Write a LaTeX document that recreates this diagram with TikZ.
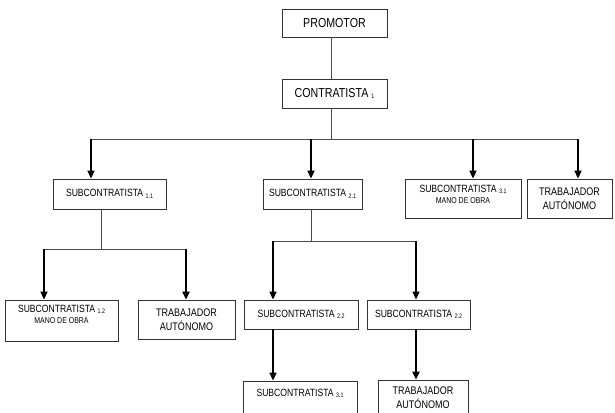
\documentclass[tikz,border=0pt]{standalone}
\usepackage{fontspec}
\setmainfont{Liberation Sans}[FakeStretch=0.82]
\usetikzlibrary{arrows.meta}
\newcommand\sbs[1]{\raisebox{-1.5pt}{\fontsize{6.5}{7}\selectfont #1}}
\newcommand\mfont{\fontsize{10.5}{12.5}\selectfont}
\newcommand\bfnt{\fontsize{13}{15}\selectfont}
\newcommand\smfont{\fontsize{8.5}{10}\selectfont}
\begin{document}
\begin{tikzpicture}[x=1pt,y=-1pt,
  box/.style={draw=black!80, line width=0.8pt, rectangle, inner sep=0pt, align=center, font=\mfont},
  txt/.style={inner sep=0pt, align=center, font=\mfont},
  conn/.style={draw=black!70, line width=0.9pt},
  arr/.style={draw=black, line width=1.6pt, -{Triangle[width=7pt,length=8pt]}}]
\useasboundingbox (0,0) rectangle (615,412);
\clip (0,0) rectangle (615,412);
% boxes
\node[box, minimum width=105pt, minimum height=28pt, font=\bfnt] (prom) at (334.5,23) {PROMOTOR};
\node[box, minimum width=105pt, minimum height=29pt, font=\bfnt] (contr) at (334.5,93.5) {CONTRATISTA \sbs{1}};
\node[box, minimum width=113pt, minimum height=30pt] (s11) at (109.5,194) {SUBCONTRATISTA \sbs{1.1}};
\node[box, minimum width=99pt, minimum height=30pt] (s21) at (312.5,194) {SUBCONTRATISTA \sbs{2.1}};
\node[box, minimum width=116pt, minimum height=39pt] (s31) at (463,198.5) {};
\node[txt, anchor=north] (s31t) at ([yshift=-6pt]s31.north) {SUBCONTRATISTA \sbs{3.1}\\[-1pt]{\smfont MANO DE OBRA}};
\node[box, minimum width=85pt, minimum height=39pt, font=\fontsize{11}{14}\selectfont] (ta1) at (569.5,198.5) {TRABAJADOR\\AUTÓNOMO};
\node[box, minimum width=113pt, minimum height=41pt] (s12) at (61.5,320.5) {};
\node[txt, anchor=north] (s12t) at ([yshift=-5pt]s12.north) {SUBCONTRATISTA \sbs{1.2}\\[-1pt]{\smfont MANO DE OBRA}};
\node[box, minimum width=97pt, minimum height=39pt, font=\fontsize{11}{14}\selectfont] (ta2) at (186.5,319.5) {TRABAJADOR\\AUTÓNOMO};
\node[box, minimum width=114pt, minimum height=29pt] (s22a) at (301,314.5) {SUBCONTRATISTA \sbs{2.2}};
\node[box, minimum width=103pt, minimum height=29pt] (s22b) at (418.5,314.5) {SUBCONTRATISTA \sbs{2.2}};
\node[box, minimum width=114pt, minimum height=36pt] (s31b) at (300,399) {};
\node[txt, anchor=north] (s31bt) at ([yshift=-8pt]s31b.north) {SUBCONTRATISTA \sbs{3.1}};
\node[box, minimum width=90pt, minimum height=36pt, font=\fontsize{11}{14}\selectfont] (ta3) at (423,398) {TRABAJADOR\\AUTÓNOMO};
% junctions
\coordinate (j0) at (331,139);
\coordinate (b1) at (91,139);
\coordinate (b2) at (311,139);
\coordinate (b3) at (473,139);
\coordinate (b4) at (578,139);
\coordinate (j1) at (101,249);
\coordinate (c1) at (44,249);
\coordinate (c2) at (186,249);
\coordinate (j2) at (311,241);
\coordinate (d1) at (273,241);
\coordinate (d2) at (416,241);
% connectors
\draw[conn] (j0 |- prom.south) -- (j0 |- contr.north);
\draw[conn] (j0 |- contr.south) -- (j0);
\draw[conn] (b1) -- (b4);
\draw[arr] (b1) -- (b1 |- s11.north);
\draw[arr] (b2) -- (b2 |- s21.north);
\draw[arr] (b3) -- (b3 |- s31.north);
\draw[arr] (b4) -- (b4 |- ta1.north);
\draw[conn] (j1 |- s11.south) -- (j1);
\draw[conn] (c1) -- (c2);
\draw[arr] (c1) -- (c1 |- s12.north);
\draw[arr, line width=2pt] (c2) -- (c2 |- ta2.north);
\draw[conn] (j2 |- s21.south) -- (j2);
\draw[conn] (d1) -- (d2);
\draw[arr] (d1) -- (d1 |- s22a.north);
\draw[arr] (d2) -- (d2 |- s22b.north);
\draw[arr] (d1 |- s22a.south) -- (d1 |- s31b.north);
\draw[arr, line width=2.2pt] (d2 |- s22b.south) -- (d2 |- ta3.north);
\end{tikzpicture}
\end{document}
